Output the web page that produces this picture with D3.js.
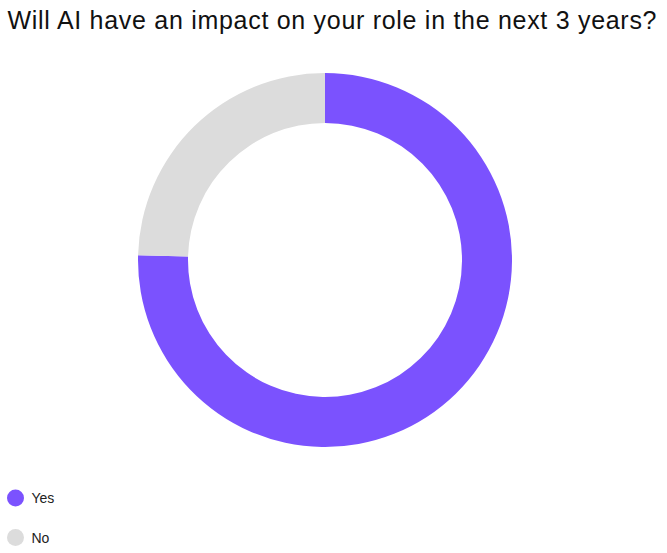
<!DOCTYPE html>
<html lang="en">
<head>
<meta charset="utf-8"/>
<title>AI impact donut</title>
<script src="https://d3js.org/d3.v7.min.js"></script>
<style>
  body { margin: 0; background: #fff; }
  .title { font-family: "Liberation Sans", Arial, sans-serif; font-size: 25px; fill: #111; }
  .legendLabel { font-family: "Liberation Sans", Arial, sans-serif; font-size: 14px; fill: #222; }
</style>
</head>
<body>
<div id="chart"></div>
<script>
// data
var categories = ["Yes", "No"];
var values = [75.4, 24.6];
var colours = ["#7b52fe", "#dcdcdc"];
var titleText = "Will AI have an impact on your role in the next 3 years?";

var w = 667, h = 553;
var cx = 325, cy = 260;
var outerR = 187, innerR = 137;

var svg = d3.select("#chart")
            .append("svg")
            .attr("width", w)
            .attr("height", h);

svg.append("text")
   .attr("class", "title")
   .attr("x", 7.5)
   .attr("y", 28.5)
   .attr("textLength", 649)
   .attr("lengthAdjust", "spacing")
   .text(titleText);

var dataset = categories.map(function(c, i){ return {name: c, value: values[i]}; });

var colour = d3.scaleOrdinal().domain(categories).range(colours);

var pie = d3.pie()
            .sort(null)
            .value(function(d){ return d.value; });

var arc = d3.arc()
            .innerRadius(innerR)
            .outerRadius(outerR);

svg.append("g")
   .attr("transform", "translate(" + cx + "," + cy + ")")
   .selectAll("path")
   .data(pie(dataset))
   .enter()
   .append("path")
   .attr("d", arc)
   .attr("fill", function(d){ return colour(d.data.name); });

// legend
var legendY = d3.scalePoint().domain(categories).range([498, 537.5]);

var legend = svg.selectAll(".legendItem")
                .data(categories)
                .enter()
                .append("g")
                .attr("class", "legendItem")
                .attr("transform", function(d){ return "translate(15.5," + legendY(d) + ")"; });

legend.append("circle")
      .attr("r", 8.5)
      .attr("fill", function(d){ return colour(d); });

legend.append("text")
      .attr("class", "legendLabel")
      .attr("x", 16)
      .attr("y", 5)
      .text(function(d){ return d; });
</script>
</body>
</html>
